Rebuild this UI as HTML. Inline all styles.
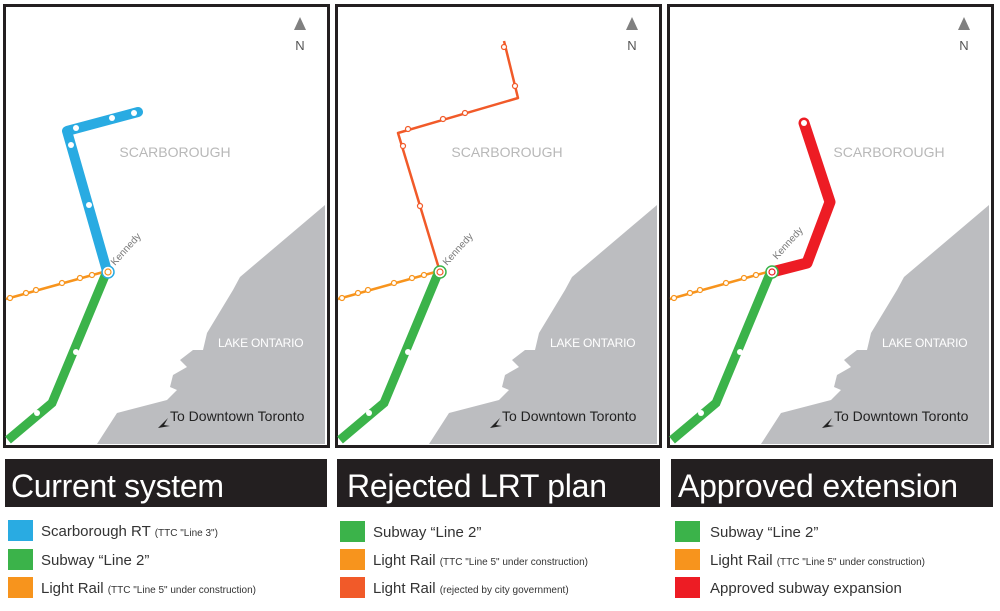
<!DOCTYPE html>
<html><head><meta charset="utf-8"><style>
html,body{margin:0;padding:0;background:#fff;width:1000px;height:611px;overflow:hidden}
svg{display:block;font-family:"Liberation Sans",Arial,sans-serif}
</style></head><body>
<svg width="1000" height="611" viewBox="0 0 1000 611">
<defs>
<g id="base">
  <rect x="6" y="7" width="321" height="438" fill="#fff"/>
  <polygon points="325,205 240,277 233,290 207,333 203,350 193,350 180,360 187,367 173,375 170,387 177,390 167,400 117,413 97,444 325,444" fill="#bcbdc0"/>
  <polygon points="300,17 294,30 306,30" fill="#808080"/>
  <text x="300" y="50" font-size="13" fill="#555" text-anchor="middle">N</text>
  <text x="218" y="347" font-size="12" fill="#fff" letter-spacing="-0.2">LAKE  ONTARIO</text>
  <text x="170" y="421" font-size="14" fill="#222">To Downtown Toronto</text>
  <polygon points="158,428 168,418 164,425 170,426" fill="#222"/>
  <polyline points="107,271 52,403 8,440" fill="none" stroke="#3bb34a" stroke-width="9"/>
  <circle cx="76" cy="352" r="3" fill="#fff"/><circle cx="37" cy="413" r="3" fill="#fff"/>
  <line x1="6" y1="299" x2="107" y2="271" stroke="#f7941d" stroke-width="2.5"/>
  <g fill="#fff" stroke="#f7941d" stroke-width="1.2">
   <circle cx="10" cy="298" r="2.5"/><circle cx="26" cy="293" r="2.5"/><circle cx="36" cy="290" r="2.5"/><circle cx="62" cy="283" r="2.5"/><circle cx="80" cy="278" r="2.5"/><circle cx="92" cy="275" r="2.5"/>
  </g>
</g>
</defs>
<rect x="5" y="6" width="323" height="440" fill="none" stroke="#231f20" stroke-width="4"/>
<use href="#base"/>
<text x="175" y="157" font-size="14" fill="#b8b8b8" text-anchor="middle">SCARBOROUGH</text>
<polyline points="107,271 67,131 138,112" fill="none" stroke="#29abe2" stroke-width="10" stroke-linejoin="round" stroke-linecap="round"/>
<g fill="#fff"><circle cx="76" cy="128" r="3"/><circle cx="112" cy="118" r="3"/><circle cx="134" cy="113" r="3"/><circle cx="71" cy="145" r="3"/><circle cx="89" cy="205" r="3"/></g>
<circle cx="108" cy="272" r="6" fill="#fff" stroke="#29abe2" stroke-width="1.5"/><circle cx="108" cy="272" r="3" fill="#fff" stroke="#f7941d" stroke-width="1.2"/>
<text transform="translate(115,266) rotate(-48)" font-size="10" fill="#777">Kennedy</text>

<g transform="translate(332,0)">
<rect x="5" y="6" width="323" height="440" fill="none" stroke="#231f20" stroke-width="4"/>
<use href="#base"/>
<text x="175" y="157" font-size="14" fill="#b8b8b8" text-anchor="middle">SCARBOROUGH</text>
<polyline points="108,272 66,133 186,98 172,41" fill="none" stroke="#f15a29" stroke-width="2.5" stroke-linejoin="round"/>
<g fill="#fff" stroke="#f15a29" stroke-width="1.2"><circle cx="172" cy="47" r="2.5"/><circle cx="183" cy="86" r="2.5"/><circle cx="133" cy="113" r="2.5"/><circle cx="111" cy="119" r="2.5"/><circle cx="76" cy="129" r="2.5"/><circle cx="71" cy="146" r="2.5"/><circle cx="88" cy="206" r="2.5"/></g>
<circle cx="108" cy="272" r="6" fill="#fff" stroke="#3bb34a" stroke-width="1.5"/><circle cx="108" cy="272" r="3" fill="#fff" stroke="#f15a29" stroke-width="1.2"/>
<text transform="translate(115,266) rotate(-48)" font-size="10" fill="#777">Kennedy</text>
</g>

<g transform="translate(664,0)">
<rect x="5" y="6" width="323" height="440" fill="none" stroke="#231f20" stroke-width="4"/>
<use href="#base"/>
<text x="225" y="157" font-size="14" fill="#b8b8b8" text-anchor="middle">SCARBOROUGH</text>
<polyline points="108,272 143,263 166,202 140,123" fill="none" stroke="#ed1c24" stroke-width="11" stroke-linejoin="round" stroke-linecap="round"/>
<circle cx="140" cy="123" r="3" fill="#fff"/>
<circle cx="108" cy="272" r="6" fill="#fff" stroke="#3bb34a" stroke-width="1.5"/><circle cx="108" cy="272" r="3" fill="#fff" stroke="#ed1c24" stroke-width="1.2"/>
<text transform="translate(113,260) rotate(-48)" font-size="10" fill="#777">Kennedy</text>
</g>

<rect x="5" y="459" width="322" height="48" fill="#231f20"/>
<text x="11" y="497" font-size="32" fill="#fff" textLength="213">Current system</text>
<rect x="337" y="459" width="323" height="48" fill="#231f20"/>
<text x="347" y="497" font-size="32" fill="#fff" textLength="260">Rejected LRT plan</text>
<rect x="671" y="459" width="322" height="48" fill="#231f20"/>
<text x="678" y="497" font-size="32" fill="#fff" textLength="280">Approved extension</text>

<g font-size="15" fill="#333">
<rect x="8" y="520" width="25" height="21" fill="#29abe2"/><text x="41" y="536">Scarborough RT <tspan font-size="10">(TTC "Line 3")</tspan></text>
<rect x="8" y="549" width="25" height="21" fill="#3bb34a"/><text x="41" y="565">Subway “Line 2”</text>
<rect x="8" y="577" width="25" height="21" fill="#f7941d"/><text x="41" y="593">Light Rail <tspan font-size="10">(TTC "Line 5" under construction)</tspan></text>

<rect x="340" y="521" width="25" height="21" fill="#3bb34a"/><text x="373" y="537">Subway “Line 2”</text>
<rect x="340" y="549" width="25" height="21" fill="#f7941d"/><text x="373" y="565">Light Rail <tspan font-size="10">(TTC "Line 5" under construction)</tspan></text>
<rect x="340" y="577" width="25" height="21" fill="#f15a29"/><text x="373" y="593">Light Rail <tspan font-size="10">(rejected by city government)</tspan></text>

<rect x="675" y="521" width="25" height="21" fill="#3bb34a"/><text x="710" y="537">Subway “Line 2”</text>
<rect x="675" y="549" width="25" height="21" fill="#f7941d"/><text x="710" y="565">Light Rail <tspan font-size="10">(TTC "Line 5" under construction)</tspan></text>
<rect x="675" y="577" width="25" height="21" fill="#ed1c24"/><text x="710" y="593">Approved subway expansion</text>
</g>
</svg>
</body></html>
